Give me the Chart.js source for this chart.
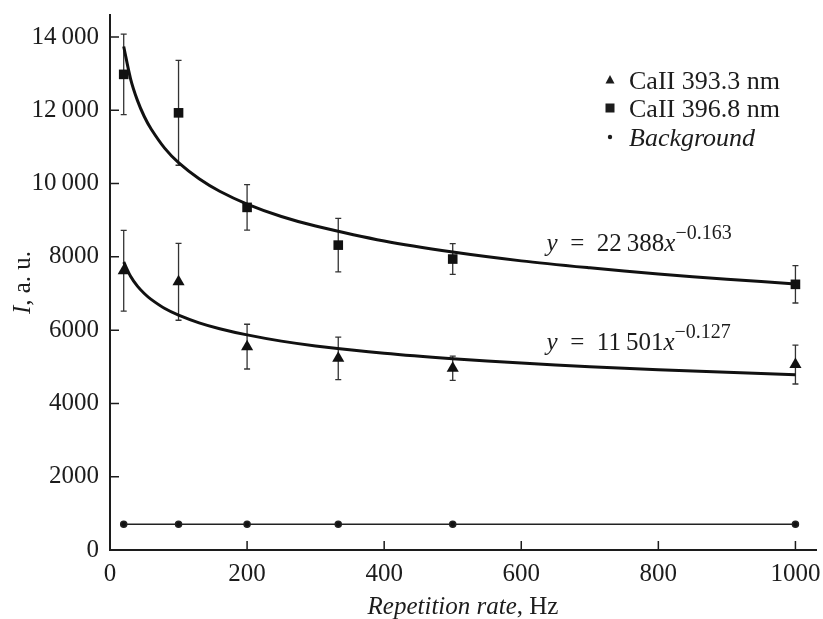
<!DOCTYPE html>
<html>
<head>
<meta charset="utf-8">
<script src="https://cdn.jsdelivr.net/npm/chart.js@4.4.1/dist/chart.umd.min.js"></script>
<style>
  html, body { margin: 0; padding: 0; background: #fff; }
  #wrap { width: 823px; height: 619px; }
</style>
</head>
<body>
<div id="wrap"><canvas id="chart" width="823" height="619"></canvas></div>
<script>
// ---- data ----
const rates = [20, 100, 200, 333, 500, 1000];
const ca3933 = [7620, 7320, 5550, 5230, 4960, 5060];
const ca3933Err = [1100, 1050, 610, 580, 330, 530];
const ca3968 = [12980, 11930, 9350, 8320, 7940, 7250];
const ca3968Err = [1100, 1430, 620, 730, 420, 510];
const background = [700, 700, 700, 700, 700, 700];

// fitted curves, sampled along the drawn lines
const fitX = [20, 30, 40, 50, 60, 80, 100, 130, 160, 200, 250, 300, 400, 500, 600, 700, 800, 900, 1000];
const fit3968 = [13740, 12860, 12270, 11830, 11490, 10960, 10570, 10130, 9790, 9440, 9100, 8840, 8430, 8130, 7890, 7700, 7530, 7390, 7260];
const fit3933 = [7860, 7470, 7200, 7000, 6840, 6590, 6410, 6200, 6040, 5870, 5700, 5570, 5370, 5220, 5100, 5000, 4920, 4850, 4780];

const xTicks = [0, 200, 400, 600, 800, 1000];
const yTicks = [0, 2000, 4000, 6000, 8000, 10000, 12000, 14000];

const FONT = "'Liberation Serif', 'DejaVu Serif', serif";
const INK = '#1c1c1c';

const pts = (xs, ys) => xs.map((x, i) => ({x: x, y: ys[i]}));

// ---- error bars ----
const errorBars = {
    id: 'errorBars',
    beforeDatasetsDraw(chart) {
        const {ctx, scales: {x, y}} = chart;
        const sets = [[ca3933, ca3933Err], [ca3968, ca3968Err]];
        ctx.save();
        ctx.strokeStyle = '#333';
        ctx.lineWidth = 1.3;
        sets.forEach(([vals, errs]) => {
            vals.forEach((v, i) => {
                const px = x.getPixelForValue(rates[i]);
                const top = y.getPixelForValue(v + errs[i]);
                const bot = y.getPixelForValue(v - errs[i]);
                ctx.beginPath();
                ctx.moveTo(px, top); ctx.lineTo(px, bot);
                ctx.moveTo(px - 3, top); ctx.lineTo(px + 3, top);
                ctx.moveTo(px - 3, bot); ctx.lineTo(px + 3, bot);
                ctx.stroke();
            });
        });
        ctx.restore();
    }
};

// ---- inward ticks, titles, legend, fit equations ----
function drawRuns(ctx, runs, x, y) {
    // runs: [text, font, dy]
    runs.forEach(([t, f, dy]) => {
        ctx.font = f;
        ctx.fillText(t, x, y + (dy || 0));
        x += ctx.measureText(t).width;
    });
}

const decorations = {
    id: 'decorations',
    afterDraw(chart) {
        const {ctx, chartArea: a, scales: {x, y}} = chart;
        ctx.save();
        ctx.strokeStyle = INK;
        ctx.lineWidth = 1.5;
        ctx.beginPath();
        xTicks.forEach(v => {
            const px = x.getPixelForValue(v);
            ctx.moveTo(px, a.bottom); ctx.lineTo(px, a.bottom - 9);
        });
        yTicks.forEach(v => {
            const py = y.getPixelForValue(v);
            ctx.moveTo(a.left, py); ctx.lineTo(a.left + 9, py);
        });
        ctx.stroke();

        ctx.fillStyle = INK;
        ctx.textBaseline = 'alphabetic';

        // x title
        const it = 'italic 25px ' + FONT, rg = '25px ' + FONT;
        ctx.font = it;
        const w1 = ctx.measureText('Repetition rate').width;
        ctx.font = rg;
        const w2 = ctx.measureText(', Hz').width;
        drawRuns(ctx, [['Repetition rate', it], [', Hz', rg]], (a.left + a.right) / 2 - (w1 + w2) / 2, 614);

        // y title
        ctx.save();
        ctx.translate(30, (a.top + a.bottom) / 2);
        ctx.rotate(-Math.PI / 2);
        ctx.font = it;
        const w3 = ctx.measureText('I').width;
        ctx.font = rg;
        const w4 = ctx.measureText(', a. u.').width;
        drawRuns(ctx, [['I', it], [', a. u.', rg]], -(w3 + w4) / 2, 0);
        ctx.restore();

        // legend
        const lx = 610, rows = [80, 108, 137];
        ctx.beginPath();
        ctx.moveTo(lx, rows[0] - 5); ctx.lineTo(lx + 4.5, rows[0] + 3.5); ctx.lineTo(lx - 4.5, rows[0] + 3.5);
        ctx.closePath(); ctx.fill();
        ctx.fillRect(lx - 4.5, rows[1] - 4.5, 9, 9);
        ctx.beginPath(); ctx.arc(lx, rows[2], 2.2, 0, Math.PI * 2); ctx.fill();
        const lf = '26px ' + FONT;
        drawRuns(ctx, [['CaII 393.3 nm', lf]], 629, rows[0] + 9);
        drawRuns(ctx, [['CaII 396.8 nm', lf]], 629, rows[1] + 9);
        drawRuns(ctx, [['Background', 'italic 26px ' + FONT]], 629, rows[2] + 9);

        // fit equations
        const sup = '20px ' + FONT;
        const ex = x.getPixelForValue(637);
        drawRuns(ctx, [['y', it], ['\u2002=\u2002', rg], ['22\u2009388', rg], ['x', it], ['\u22120.163', sup, -12]], ex, y.getPixelForValue(8150));
        drawRuns(ctx, [['y', it], ['\u2002=\u2002', rg], ['11\u2009501', rg], ['x', it], ['\u22120.127', sup, -12]], ex, y.getPixelForValue(5470));
        ctx.restore();
    }
};

const bgWhite = {
    id: 'bgWhite',
    beforeDraw(chart) {
        const ctx = chart.ctx;
        ctx.save();
        ctx.fillStyle = '#fff';
        ctx.fillRect(0, 0, chart.width, chart.height);
        ctx.restore();
    }
};

const fmt = v => v >= 10000 ? String(v).replace(/(\d+)(\d{3})$/, '$1\u2009$2') : String(v);

new Chart(document.getElementById('chart'), {
    type: 'scatter',
    data: {
        datasets: [
            {label: 'fit 396.8', data: pts(fitX, fit3968), showLine: true, borderColor: '#111', borderWidth: 3, pointRadius: 0, tension: 0.3},
            {label: 'fit 393.3', data: pts(fitX, fit3933), showLine: true, borderColor: '#111', borderWidth: 3, pointRadius: 0, tension: 0.3},
            {label: 'CaII 393.3 nm', data: pts(rates, ca3933), pointStyle: 'triangle', pointRadius: 7, backgroundColor: '#111', borderColor: '#111', borderWidth: 0},
            {label: 'CaII 396.8 nm', data: pts(rates, ca3968), pointStyle: 'rect', pointRadius: 6.8, backgroundColor: '#111', borderColor: '#111', borderWidth: 0},
            {label: 'Background', data: pts(rates, background), showLine: true, borderColor: '#222', borderWidth: 1.5, pointStyle: 'circle', pointRadius: 3, backgroundColor: '#111'}
        ]
    },
    options: {
        responsive: false,
        animation: false,
        layout: {padding: {top: 15, right: 6, left: 0, bottom: 0}},
        plugins: {legend: {display: false}, tooltip: {enabled: false}},
        scales: {
            x: {
                type: 'linear', min: 0, max: 1030,
                afterFit: s => { s.height = 69; s.paddingLeft = 0; s.paddingRight = 0; },
                afterBuildTicks: s => { s.ticks = xTicks.map(v => ({value: v})); },
                grid: {drawOnChartArea: false, drawTicks: false},
                border: {color: INK, width: 2},
                ticks: {font: {family: FONT, size: 25}, color: INK, padding: 9, maxRotation: 0, callback: v => String(v)}
            },
            y: {
                type: 'linear', min: 0, max: 14600,
                afterFit: s => { s.width = 110; s.paddingTop = 0; s.paddingBottom = 0; },
                afterBuildTicks: s => { s.ticks = yTicks.map(v => ({value: v})); },
                grid: {drawOnChartArea: false, drawTicks: false},
                border: {color: INK, width: 2},
                ticks: {font: {family: FONT, size: 25}, color: INK, padding: 11, callback: fmt}
            }
        }
    },
    plugins: [bgWhite, errorBars, decorations]
});
</script>
</body>
</html>
